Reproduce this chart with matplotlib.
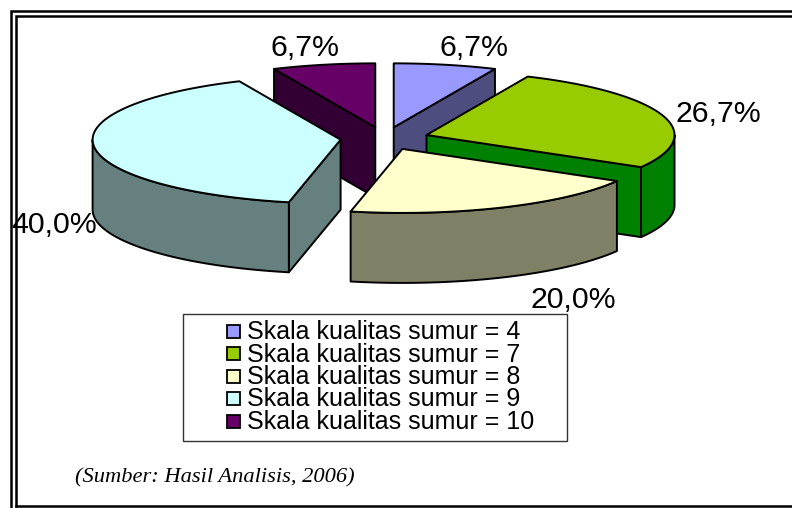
import numpy as np
import matplotlib
matplotlib.use("Agg")
import matplotlib.pyplot as plt
from matplotlib.patches import Polygon, Rectangle

# data
labels = ["Skala kualitas sumur = 4", "Skala kualitas sumur = 7", "Skala kualitas sumur = 8",
          "Skala kualitas sumur = 9", "Skala kualitas sumur = 10"]
values = [6.7, 26.7, 20.0, 40.0, 6.7]
pct_labels = ["6,7%", "26,7%", "20,0%", "40,0%", "6,7%"]

top_colors = ["#9999FF", "#99CC00", "#FFFFCC", "#CCFFFF", "#660066"]
side_colors = ["#4D4D80", "#008000", "#808066", "#668080", "#330033"]

# pie geometry, in pixels of the 792x508 picture
cx, cy = 384.5, 138.5
rx, ry = 248, 64
depth = 70
explode = 0.178
draw_order = [0, 4, 1, 3, 2]
label_pos = [(474, 48), (718, 114), (573, 300), (54, 225), (305, 48)]

W, H = 792, 508
fig = plt.figure(figsize=(W / 100, H / 100), dpi=100)
ax = fig.add_axes([0, 0, 1, 1])
ax.set_xlim(0, W)
ax.set_ylim(H, 0)
ax.axis("off")

# frame runs off the right edge, so there is no right side
frame_lw = 1.8
ax.plot([11, 11, W], [H, 11, 11], color="black", lw=frame_lw, solid_joinstyle="miter")
ax.plot([16, 16, W], [506, 16, 16], color="black", lw=frame_lw, solid_joinstyle="miter")
ax.plot([16, W], [506, 506], color="black", lw=frame_lw)

fracs = np.array(values) / sum(values)
ends = np.cumsum(fracs) * 2 * np.pi
starts = ends - fracs * 2 * np.pi


def point(px, py, t):
    return px + rx * np.sin(t), py - ry * np.cos(t)


def draw_poly(xs, ys, color, z):
    ax.add_patch(Polygon(np.column_stack([xs, ys]), closed=True, fc=color, ec="black",
                         lw=1.4, joinstyle="round", zorder=z))


for n, i in enumerate(draw_order):
    t0, t1 = starts[i], ends[i]
    mid = (t0 + t1) / 2
    ax0 = cx + explode * rx * np.sin(mid)
    ay0 = cy - explode * ry * np.cos(mid)
    z = 2 + n

    # cut faces that look at the viewer
    for t, show in ((t0, np.sin(t0) < -1e-6), (t1, np.sin(t1) > 1e-6)):
        if show:
            ex, ey = point(ax0, ay0, t)
            draw_poly([ax0, ex, ex, ax0], [ay0, ey, ey + depth, ay0 + depth], side_colors[i], z)

    # outer wall, only the front half of the ellipse shows
    a = max(t0, np.pi / 2)
    b = min(t1, 3 * np.pi / 2)
    if b > a:
        t = np.linspace(a, b, 60)
        ox, oy = point(ax0, ay0, t)
        draw_poly(np.r_[ox, ox[::-1]], np.r_[oy, oy[::-1] + depth], side_colors[i], z)

    # top
    t = np.linspace(t0, t1, 80)
    ox, oy = point(ax0, ay0, t)
    draw_poly(np.r_[ax0, ox], np.r_[ay0, oy], top_colors[i], z)

for (x, y), s in zip(label_pos, pct_labels):
    ax.text(x, y, s, family="Liberation Sans", fontsize=21.8, ha="center", va="center", color="black", zorder=20)

# legend box
ax.add_patch(Rectangle((183, 314), 384, 127, fc="white", ec="#333333", lw=1.0, zorder=10))
row_y = 331
for i, s in enumerate(labels):
    y = row_y + i * 22.5
    ax.add_patch(Rectangle((227, y - 6.5), 13, 13, fc=top_colors[i], ec="black", lw=1.3, zorder=11))
    ax.text(247, y + 1, s, family="Liberation Sans", fontsize=18, ha="left", va="center", zorder=12)

ax.text(75, 478, "(Sumber: Hasil Analisis, 2006)", family="Liberation Serif", style="italic",
        fontsize=16.2, ha="left", va="center", zorder=12)

fig.savefig("out.png", dpi=100)
